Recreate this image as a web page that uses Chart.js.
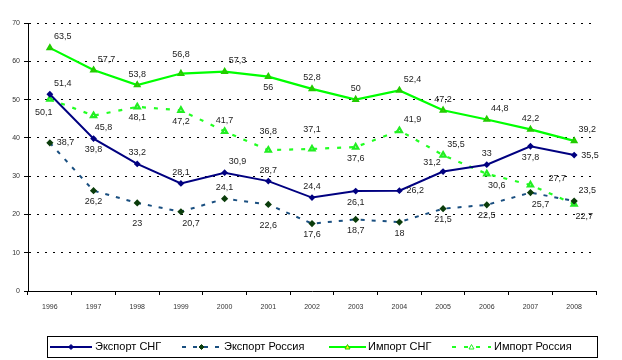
<!DOCTYPE html>
<html><head><meta charset="utf-8">
<script src="https://cdn.jsdelivr.net/npm/chart.js@4/dist/chart.umd.min.js"></script>
<style>html,body{margin:0;padding:0;background:#fff}#wrap{width:622px;height:360px;position:relative}</style>
</head><body><div id="wrap"><canvas id="c" width="622" height="360"></canvas></div>
<script>
const years = ['1996','1997','1998','1999','2000','2001','2002','2003','2004','2005','2006','2007','2008'];
const exportCIS    = [51.4, 39.8, 33.2, 28.1, 30.9, 28.7, 24.4, 26.1, 26.2, 31.2, 33, 37.8, 35.5];
const exportRussia = [38.7, 26.2, 23, 20.7, 24.1, 22.6, 17.6, 18.7, 18, 21.5, 22.5, 25.7, 23.5];
const importCIS    = [63.5, 57.7, 53.8, 56.8, 57.3, 56, 52.8, 50, 52.4, 47.2, 44.8, 42.2, 39.2];
const importRussia = [50.1, 45.8, 48.1, 47.2, 41.7, 36.8, 37.1, 37.6, 41.9, 35.5, 30.6, 27.7, 22.7];
const yTicks = [0, 10, 20, 30, 40, 50, 60, 70];
const seriesNames = ['Экспорт СНГ', 'Экспорт Россия', 'Импорт СНГ', 'Импорт Россия'];

// label anchor codes (relative placement of each value label)
const anchors = [
  ['tr','b','t','t','tr','t','t','b','r','tl','t','b','r'],
  ['r','b','bb','br','t','bb','b','b','b','b','b','br','tr'],
  ['tr','tr','t','tt','tr','b','t','t','tr','t','tr','t','tr'],
  ['bl','br','b','b','t','tt','tt','b','tr','tr','br','rr','br']
];
const OFF = {t:[0,-11,'center'],tt:[0,-19,'center'],b:[0,11,'center'],bb:[0,21,'center'],
  r:[7,0,'left'],rr:[18,-6,'left'],tr:[13,-11,'center'],tl:[-11,-9,'center'],
  br:[10,12,'center'],bl:[-6,13,'center']};

const labelPlugin = {
  id:'vlabels',
  afterDatasetsDraw(chart){
    const ctx = chart.ctx;
    ctx.save();
    ctx.font = '9px "Liberation Sans", Arial, sans-serif';
    ctx.fillStyle = '#222';
    ctx.textBaseline = 'middle';
    chart.data.datasets.forEach((ds, di) => {
      const meta = chart.getDatasetMeta(di);
      meta.data.forEach((pt, i) => {
        const o = OFF[anchors[di][i]];
        ctx.textAlign = o[2];
        ctx.fillText(String(ds.data[i]).replace('.', ','), pt.x + o[0], pt.y + o[1]);
      });
    });
    ctx.restore();
  }
};

const legendPlugin = {
  id:'boxlegend',
  afterDraw(chart){
    const ctx = chart.ctx;
    ctx.save();
    ctx.strokeStyle = '#000'; ctx.lineWidth = 1;
    ctx.strokeRect(47.5, 336.5, 550, 21);
    const samples = [[50,92,95],[182,221,224],[329,366,368],[452,491,494]];
    ctx.font = '11px "Liberation Sans", Arial, sans-serif';
    ctx.textBaseline = 'middle'; ctx.textAlign = 'left';
    chart.data.datasets.forEach((ds, i) => {
      const [x0,x1,tx] = samples[i];
      const y = 347;
      ctx.strokeStyle = ds.borderColor; ctx.lineWidth = ds.borderWidth;
      ctx.setLineDash(ds.borderDash || []);
      ctx.beginPath(); ctx.moveTo(x0,y); ctx.lineTo(x1,y); ctx.stroke();
      ctx.setLineDash([]);
      const mx = (x0+x1)/2;
      ctx.fillStyle = ds.pointBackgroundColor; ctx.strokeStyle = ds.pointBorderColor; ctx.lineWidth = 1;
      ctx.beginPath();
      if (ds.pointStyle === 'triangle') { ctx.moveTo(mx,y-2.5); ctx.lineTo(mx+2.5,y+2); ctx.lineTo(mx-2.5,y+2); ctx.closePath(); }
      else { ctx.moveTo(mx,y-2.5); ctx.lineTo(mx+2.5,y); ctx.lineTo(mx,y+2.5); ctx.lineTo(mx-2.5,y); ctx.closePath(); }
      ctx.fill(); ctx.stroke();
      ctx.fillStyle = '#000';
      ctx.fillText(ds.label, tx, y);
    });
    ctx.restore();
  }
};

const axisLine = {
  id:'yaxisline',
  afterDraw(chart){
    const a = chart.chartArea, ctx = chart.ctx;
    ctx.save(); ctx.strokeStyle = '#000'; ctx.lineWidth = 1; ctx.setLineDash([]);
    ctx.beginPath(); ctx.moveTo(Math.round(a.left)+0.5, a.top); ctx.lineTo(Math.round(a.left)+0.5, a.bottom); ctx.stroke();
    ctx.restore();
  }
};

new Chart(document.getElementById('c'), {
  type:'line',
  data:{
    labels: years,
    datasets:[
      {label:seriesNames[0], data:exportCIS, borderColor:'#000080', borderWidth:2, pointStyle:'rectRot', pointRadius:2,
        pointBackgroundColor:'#000080', pointBorderColor:'#000080', tension:0},
      {label:seriesNames[1], data:exportRussia, borderColor:'#1a4f80', borderWidth:2, borderDash:[4,7], pointStyle:'rectRot', pointRadius:2.2,
        pointBackgroundColor:'#0b3d0b', pointBorderColor:'#0b3d0b', tension:0},
      {label:seriesNames[2], data:importCIS, borderColor:'#00ff00', borderWidth:2.2, pointStyle:'triangle', pointRadius:2.5,
        pointBackgroundColor:'#ffff00', pointBorderColor:'#22cc00', tension:0},
      {label:seriesNames[3], data:importRussia, borderColor:'#22ff22', borderWidth:2.2, borderDash:[4,8], pointStyle:'triangle', pointRadius:3,
        pointBackgroundColor:'#ffffff', pointBorderColor:'#22ee22', tension:0}
    ]
  },
  options:{
    responsive:false, animation:false, devicePixelRatio:1,
    layout:{padding:{left:0, right:26, top:23, bottom:49}},
    plugins:{legend:{display:false}, tooltip:{enabled:false}},
    scales:{
      x:{
        offset:true,
        grid:{offset:true, drawOnChartArea:false, drawTicks:true, tickLength:4, color:'#000'},
        border:{display:true, color:'#000', width:1},
        ticks:{font:{size:7, family:'"Liberation Sans", Arial, sans-serif'}, color:'#333', padding:8, maxRotation:0, autoSkip:false},
        afterFit(s){ s.height = 20; }
      },
      y:{
        min:0, max:70,
        afterBuildTicks(s){ s.ticks = yTicks.map(v => ({value:v})); },
        grid:{color:(c)=> c.tick.value === 0 ? 'rgba(0,0,0,0)' : '#000', lineWidth:1, drawTicks:true, tickLength:4, tickColor:'#000'},
        border:{display:true, color:'#000', width:1, dash:[2,6]},
        ticks:{font:{size:7, family:'"Liberation Sans", Arial, sans-serif'}, color:'#333', padding:4},
        afterFit(s){ s.width = 28; }
      }
    }
  },
  plugins:[labelPlugin, legendPlugin, axisLine]
});
</script></body></html>
